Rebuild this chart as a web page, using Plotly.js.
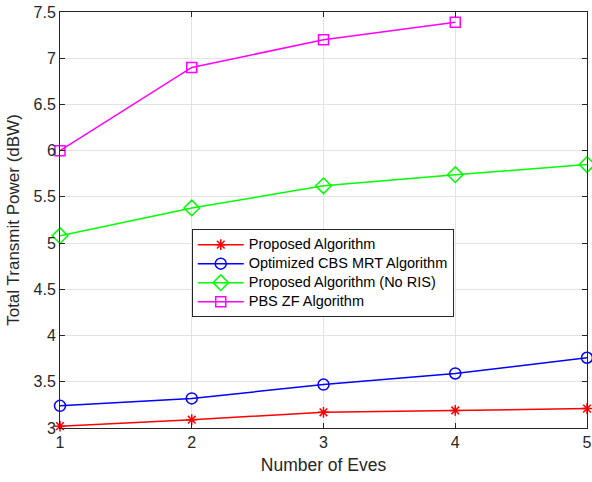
<!DOCTYPE html>
<html><head><meta charset="utf-8">
<script src="https://cdn.plot.ly/plotly-3.0.1.min.js"></script>
<style>html,body{margin:0;padding:0;background:#fff}#chart{width:592px;height:482px}</style>
</head><body><div id="chart"></div>
<script>
const eves = [1, 2, 3, 4, 5];
const proposed = [3.02, 3.09, 3.17, 3.19, 3.21];
const cbsMrt = [3.24, 3.32, 3.47, 3.59, 3.76];
const proposedNoRis = [5.08, 5.38, 5.62, 5.74, 5.85];
const pbsZfEves = [1, 2, 3, 4];
const pbsZf = [6.0, 6.9, 7.2, 7.39];
const seriesNames = ["Proposed Algorithm", "Optimized CBS MRT Algorithm", "Proposed Algorithm (No RIS)", "PBS ZF Algorithm"];
const yTicks = [3, 3.5, 4, 4.5, 5, 5.5, 6, 6.5, 7, 7.5];
const yTickText = ["3", "3.5", "4", "4.5", "5", "5.5", "6", "6.5", "7", "7.5"];
const xTicks = [1, 2, 3, 4, 5];

const FONT = "Liberation Sans, Arial, sans-serif";
const lw = 1.5;
const nm = s => '<span style="font-size:14.5px">' + s + '</span>';
const traces = [
  {x: eves, y: proposed, name: nm(seriesNames[0]), mode: "lines+markers", cliponaxis: false,
   line: {color: "#ff0000", width: lw}, marker: {symbol: "asterisk-open", size: 9, color: "#ff0000", line: {color: "#ff0000", width: 1.5}}},
  {x: eves, y: cbsMrt, name: nm(seriesNames[1]), mode: "lines+markers", cliponaxis: false,
   line: {color: "#0000ff", width: lw}, marker: {symbol: "circle-open", size: 11, color: "#0000ff", line: {color: "#0000ff", width: 1.5}}},
  {x: eves, y: proposedNoRis, name: nm(seriesNames[2]), mode: "lines+markers", cliponaxis: false,
   line: {color: "#00ff00", width: lw}, marker: {symbol: "diamond-open", size: 12, color: "#00ff00", line: {color: "#00ff00", width: 1.5}}},
  {x: pbsZfEves, y: pbsZf, name: nm(seriesNames[3]), mode: "lines+markers", cliponaxis: false,
   line: {color: "#ff00ff", width: lw}, marker: {symbol: "square-open", size: 10, color: "#ff00ff", line: {color: "#ff00ff", width: 1.5}}}
];

const axisCommon = {
  showline: true, mirror: "ticks", linecolor: "#262626", linewidth: 1,
  ticks: "inside", ticklen: 5, tickcolor: "#262626",
  showgrid: true, gridcolor: "#e3e3e3", gridwidth: 1, zeroline: false,
  tickfont: {family: FONT, size: 16, color: "#262626"}
};

const layout = {
  width: 592, height: 482,
  margin: {l: 60, r: 5, t: 12, b: 54},
  paper_bgcolor: "#fff", plot_bgcolor: "#fff",
  showlegend: true,
  legend: {x: 0.25, y: 0.478, xanchor: "left", yanchor: "top",
    bgcolor: "#fff", bordercolor: "#262626", borderwidth: 1,
    font: {family: FONT, size: 11, color: "#000"},
    tracegroupgap: 0, itemwidth: 46},
  xaxis: Object.assign({}, axisCommon, {
    range: [1, 5], tickvals: xTicks, ticktext: xTicks.map(String),
    title: {text: "Number of Eves", standoff: 8, font: {family: FONT, size: 17.5, color: "#262626"}}
  }),
  yaxis: Object.assign({}, axisCommon, {
    range: [3, 7.5], tickvals: yTicks, ticktext: yTickText,
    title: {text: "Total Transmit Power (dBW)", standoff: 9, font: {family: FONT, size: 17, color: "#262626"}}
  })
};

Plotly.newPlot("chart", traces, layout, {displayModeBar: false, staticPlot: true});
</script>
</body></html>
